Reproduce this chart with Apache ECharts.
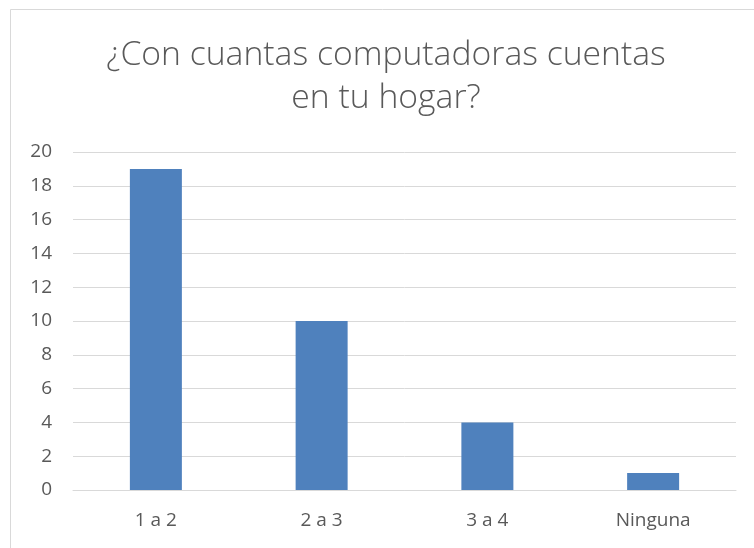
<!DOCTYPE html>
<html><head><meta charset="utf-8">
<script src="https://cdn.jsdelivr.net/npm/echarts@6/dist/echarts.min.js"></script>
<style>html,body{margin:0;padding:0;background:#fff}#c{width:754px;height:548px}</style>
</head><body><div id="c"></div>
<script>
const titleLines = ['¿Con cuantas computadoras cuentas', 'en tu hogar?'];
const categories = ['1 a 2', '2 a 3', '3 a 4', 'Ninguna'];
const values = [19, 10, 4, 1];
const yTicks = { min: 0, max: 20, interval: 2 };

const chart = echarts.init(document.getElementById('c'), null, { renderer: 'canvas' });
chart.setOption({
  animation: false,
  backgroundColor: '#fff',
  graphic: [{
    type: 'rect', left: 8, top: 7,
    shape: { width: 744, height: 539 },
    style: { fill: 'none', stroke: '#d9d9d9', lineWidth: 1 }
  }],
  title: {
    text: titleLines.join('\n'),
    left: 381, top: 29, textAlign: 'center',
    textStyle: { fontFamily: 'Open Sans', fontWeight: 300, fontSize: 33.7, color: '#595959', lineHeight: 43 }
  },
  grid: { left: 73, right: 18, top: 152, bottom: 58 },
  xAxis: {
    type: 'category', data: categories,
    axisLine: { lineStyle: { color: '#d9d9d9' } },
    axisTick: { show: false },
    axisLabel: { color: '#595959', fontSize: 19, fontFamily: 'Open Sans', margin: 21 }
  },
  yAxis: {
    type: 'value', min: yTicks.min, max: yTicks.max, interval: yTicks.interval,
    axisLine: { show: false }, axisTick: { show: false },
    splitLine: { lineStyle: { color: '#d9d9d9', width: 1 } },
    axisLabel: { color: '#595959', fontSize: 19, fontFamily: 'Open Sans', margin: 21 }
  },
  series: [{
    type: 'bar', data: values, barWidth: 52,
    itemStyle: { color: '#4f81bd' }
  }]
});
</script></body></html>
